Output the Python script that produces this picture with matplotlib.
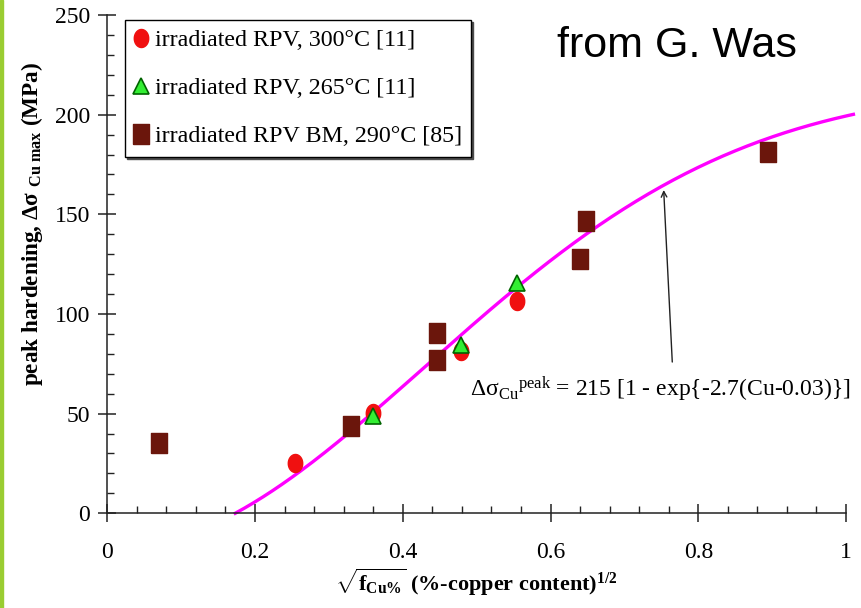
import numpy as np
import matplotlib
matplotlib.use("Agg")
import matplotlib.pyplot as plt
from matplotlib.patches import Rectangle

plt.rcParams['font.family'] = ['Liberation Serif', 'DejaVu Serif']
plt.rcParams['mathtext.fontset'] = 'custom'
plt.rcParams['mathtext.rm'] = 'Liberation Serif'
plt.rcParams['mathtext.it'] = 'Liberation Serif:italic'
plt.rcParams['mathtext.bf'] = 'Liberation Serif:bold'

# data: x = sqrt(Cu %), y = peak hardening (MPa)
rpv300_x = [0.254, 0.360, 0.479, 0.555]
rpv300_y = [25.2, 50.3, 81.5, 106.5]

rpv265_x = [0.360, 0.479, 0.555]
rpv265_y = [49.0, 84.5, 115.5]

rpvbm_x = [0.070, 0.330, 0.446, 0.446, 0.640, 0.648, 0.894]
rpvbm_y = [35.1, 43.8, 90.5, 77.0, 127.4, 146.7, 181.4]

# fit: d_sigma = 215 [1 - exp{-2.7(Cu-0.03)}], Cu = x^2
amp, rate, cu0 = 215.0, 2.7, 0.03
fit_x = np.linspace(np.sqrt(cu0), 1.01, 200)
fit_y = amp * (1 - np.exp(-rate * (fit_x ** 2 - cu0)))

t = np.linspace(0, 2 * np.pi, 40)
ellipse = np.column_stack([0.8 * np.cos(t), np.sin(t)])
tall_square = [(-0.42, -0.5), (0.42, -0.5), (0.42, 0.5), (-0.42, 0.5), (-0.42, -0.5)]

fig = plt.figure(figsize=(8.61, 6.08), dpi=100)
ax = fig.add_axes([0.1246, 0.1558, 0.9826 - 0.1246, 0.9753 - 0.1558])

ax.plot(fit_x, fit_y, color='#FF00FF', lw=2.4, clip_on=False, zorder=2)
ax.plot(rpv300_x, rpv300_y, ls='none', marker=ellipse, ms=13, color='#F01010',
        mec='#F01010', label='irradiated RPV, 300°C [11]', zorder=3)
ax.plot(rpv265_x, rpv265_y, ls='none', marker='^', ms=12, color='#33EE33',
        mec='#006400', mew=1.2, label='irradiated RPV, 265°C [11]', zorder=4)
ax.plot(rpvbm_x, rpvbm_y, ls='none', marker=tall_square, ms=14, color='#6B160C',
        mec='#6B160C', label='irradiated RPV BM, 290°C [85]', zorder=3)

ax.set_xlim(0, 1)
ax.set_ylim(0, 250)
ax.set_xticks([0, 0.2, 0.4, 0.6, 0.8, 1.0])
ax.set_xticklabels(['0', '0.2', '0.4', '0.6', '0.8', '1'])
ax.set_yticks([0, 50, 100, 150, 200, 250])
ax.set_xticks(np.arange(0, 1.001, 0.04), minor=True)
ax.set_yticks(np.arange(0, 250.1, 10), minor=True)

for s in ['top', 'right']:
    ax.spines[s].set_visible(False)
for s in ['left', 'bottom']:
    ax.spines[s].set_linewidth(1.1)
    ax.spines[s].set_color('#222222')

ax.tick_params(axis='both', which='major', direction='inout', length=13, width=1.1,
               labelsize=17, color='#222222')
ax.tick_params(axis='x', which='major', pad=14)
ax.tick_params(axis='y', which='major', pad=6)
ax.tick_params(axis='both', which='minor', direction='in', length=5, width=1.0,
               color='#222222')

ax.set_ylabel(r'peak hardening, Δσ $_{\mathbf{Cu\ max}}$ (MPa)', fontsize=16.7,
              fontweight='bold')
ax.yaxis.set_label_coords(-0.084, 0.58)
ax.set_xlabel(r'$\sqrt{\mathbf{f}_{\mathbf{Cu\%}}}$ (%-copper content)$^{\mathbf{1/2}}$',
              fontsize=16, fontweight='bold', labelpad=3)

ax.annotate('', xy=(0.753, 163.6), xytext=(0.765, 74.5),
            arrowprops=dict(arrowstyle='->', color='#222222', lw=1.0))
ax.text(0.491, 62, r'Δσ$_{\mathrm{Cu}}{}^{\mathrm{peak}}$ = 215 [1 - exp{-2.7(Cu-0.03)}]',
        fontsize=17, va='center', ha='left')

leg = ax.legend(loc='upper left', bbox_to_anchor=(0.024, 0.99), borderaxespad=0,
                fontsize=17.3, frameon=True, fancybox=False, edgecolor='black',
                handlelength=0.6, handletextpad=0.25, labelspacing=1.1,
                borderpad=0.38, shadow={'ox': 1.5, 'oy': -1.5, 'color': '0.3', 'alpha': 1})
leg.get_frame().set_linewidth(1.0)

fig.text(0.647, 0.925, 'from G. Was', fontsize=31, family='Liberation Sans',
         ha='left', va='center')

fig.patches.append(Rectangle((0, 0), 3 / 861, 1, transform=fig.transFigure,
                             color='#9ACD32', zorder=0))

fig.savefig('out.png', dpi=100)
